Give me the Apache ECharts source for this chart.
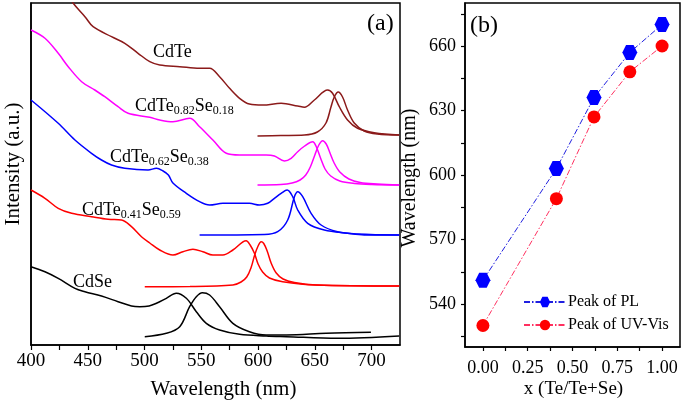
<!DOCTYPE html>
<html>
<head>
<meta charset="utf-8">
<script src="https://cdn.jsdelivr.net/npm/echarts@6/dist/echarts.min.js"></script>
<style>
html,body{margin:0;padding:0;background:#fff;}
#c{width:685px;height:404px;}
</style>
</head>
<body>
<div id="c"></div>
<script>
// ---------- Panel (a): spectra, [wavelength nm, intensity a.u. (offset-stacked)] ----------
const cdteAbs = [[432,352],[437.2,341.7],[447.5,328.3],[454.7,318.3],[470.9,308.3],[482.6,301.7],[494.3,291.7],[504.6,283.3],[513.4,280],[531,278.3],[548.5,276.7],[557.3,276.7],[566.1,268.3],[574.9,256.7],[583.7,246.7],[592.4,241],[604.1,240],[620.3,241.7],[634.9,239],[640.8,237.7],[649.6,245],[661.3,255],[665.6,251.7],[671.5,238.3],[678.8,225],[687.6,216.7],[702.3,212.3],[724.3,210]];
const cdtePl = [[599.5,209],[620,209.5],[640.8,210],[652.2,213],[659.8,222],[664.2,238],[667.1,248],[670.6,253],[674.4,248],[678.8,235],[684.7,222],[693.5,214],[704.9,211],[724.3,210]];

const te82Abs = [[400,315],[412.3,306.7],[424,291.7],[432.8,278.3],[444.6,263.3],[456.2,255],[465,248.3],[476.7,238.3],[485.5,231.7],[504.6,227.7],[513.4,225],[525,223.3],[539.7,226.7],[548.5,218.3],[560.2,205],[572,191.7],[583.7,190],[607.1,190],[614.4,189],[623.2,184],[629.1,186.7],[634.9,193.3],[641,199],[648.1,203.3],[651,199],[655,187],[659,176],[664,169],[672,164],[685,161.5],[700,160.5],[724.3,160]];
const te82Pl = [[599.5,160],[620,160.5],[630,162],[637,165],[642,170],[646,178],[650,190],[653.5,200],[656.9,204.3],[660,201],[663,193],[667,182],[672,173],[680,166],[690,162.5],[705,161],[724.3,160]];

const te62Abs = [[400,245],[424,221.7],[438.7,205],[453.3,191.7],[462.1,185],[470.9,180],[482.6,176.7],[503.1,175],[510.5,176.7],[516.3,174],[521,170],[525,162],[536.8,151.7],[548.5,143.3],[557.3,140],[569,141.7],[583.7,141.7],[592.4,141.7],[601.2,140],[608.5,141.7],[614.4,146.7],[620.3,151.7],[625.6,155],[630.5,148.3],[634.9,135],[643.7,121.7],[658.3,115],[678.8,111.7],[693.5,110],[724.3,110]];
const te62Pl = [[548.5,110],[605.6,110.5],[617.3,113.3],[626.1,125],[632,148.3],[634.9,153.3],[639.3,148.3],[646.7,131.7],[655.5,120],[670,113.3],[687.6,111],[724.3,110]];

const te41Abs = [[400,155],[412.3,146.7],[424,136.7],[435.8,131.7],[453.3,128.3],[467.9,125.7],[479.7,125],[488.5,118.3],[497.3,108.3],[504.6,102],[513.4,95],[525,90],[533.8,93.3],[542.6,95.7],[551.4,93.3],[560.2,90],[569,90],[577.8,95],[589.5,104.3],[593,100],[596.8,91.7],[600,81],[604,73],[610,67],[621.7,63.3],[651,60],[724.3,59]];
const te41Pl = [[500.2,58.3],[540,58.5],[577.8,60],[585,63],[590,68],[594,78],[597,90],[600,99],[602.7,103.3],[605,101.5],[608,94],[611.5,82],[616,72],[622,66],[632,62.5],[651,60],[724.3,59]];

const cdseAbs = [[400,78.3],[412.3,73.3],[424,66.7],[438.7,56.7],[447.5,53.3],[462.1,49],[476.7,43.3],[488.5,39],[495.8,38.3],[504,39],[510.5,41.7],[519.2,46.7],[528,51.7],[536.8,46.7],[545.6,33.3],[554.4,21.7],[566.1,15],[583.7,10.7],[607.1,9],[625,8.3],[670,6.7],[724.3,9]];
const cdsePl = [[500.2,8.3],[519.2,11.7],[531,18.3],[539.7,38.3],[545.6,48.3],[550.9,52.3],[557.3,50],[566.1,38.3],[577.8,21.7],[592.4,13.3],[607.1,10],[625,10],[660,11.7],[699.4,12.7]];

const xTicksA = [400,425,450,475,500,525,550,575,600,625,650,675,700];
const xLabelsA = [400,450,500,550,600,650,700];

// ---------- Panel (b): peak positions ----------
const xFrac = [0, 0.41, 0.62, 0.82, 1.0];
const plPeak = [551, 603, 636, 657, 670];
const uvPeak = [530, 589, 627, 648, 660];
const xTicksB = [0,0.125,0.25,0.375,0.5,0.625,0.75,0.875,1];
const xLabelsB = [0,0.25,0.5,0.75,1];
const yTicksB = [525,540,555,570,585,600,615,630,645,660,675];
const yLabelsB = [540,570,600,630,660];

const FONT = 'Liberation Serif';
const hexPath = 'path://M-1,0 L-0.5,-0.866 L0.5,-0.866 L1,0 L0.5,0.866 L-0.5,0.866 Z';

function spec(data, color) {
  return {type:'line', xAxisIndex:0, yAxisIndex:0, data:data, showSymbol:false, smooth:0.35,
    lineStyle:{color:color, width:1.5}, itemStyle:{color:color}, clip:true, silent:true};
}
const brown = '#8B1A1A';

const chart = echarts.init(document.getElementById('c'), null, {renderer:'canvas'});
const axisTxt = {color:'#000', fontFamily:FONT};
const option = {
  animation:false,
  backgroundColor:'#fff',
  textStyle:{fontFamily:FONT},
  grid:[
    {left:31, top:3, width:369, height:342, show:true, borderColor:'#000', borderWidth:1.5, backgroundColor:'transparent'},
    {left:465, top:3, width:215, height:344, show:true, borderColor:'#000', borderWidth:1.5, backgroundColor:'transparent'}
  ],
  xAxis:[
    {type:'value', gridIndex:0, min:400, max:725, interval:50,
      axisLine:{show:true, onZero:false, lineStyle:{color:'#000', width:1.5}},
      axisTick:{show:true, inside:false, length:5, customValues:xTicksA, lineStyle:{color:'#000', width:1.2}},
      axisLabel:Object.assign({fontSize:19, margin:7, customValues:xLabelsA}, axisTxt),
      splitLine:{show:false}},
    {type:'value', gridIndex:1, min:-0.1, max:1.1, interval:0.25,
      axisLine:{show:true, onZero:false, lineStyle:{color:'#000', width:1.5}},
      axisTick:{show:true, inside:false, length:4, customValues:xTicksB, lineStyle:{color:'#000', width:1.2}},
      axisLabel:Object.assign({fontSize:18, margin:12, customValues:xLabelsB, formatter:(v)=>Number(v).toFixed(2)}, axisTxt),
      splitLine:{show:false}}
  ],
  yAxis:[
    {type:'value', gridIndex:0, min:0, max:342,
      axisLine:{show:true, onZero:false, lineStyle:{color:'#000', width:1.5}},
      axisTick:{show:false}, axisLabel:{show:false}, splitLine:{show:false}},
    {type:'value', gridIndex:1, min:520, max:680, interval:40,
      axisLine:{show:true, onZero:false, lineStyle:{color:'#000', width:1.5}},
      axisTick:{show:true, inside:false, length:4, customValues:yTicksB, lineStyle:{color:'#000', width:1.2}},
      axisLabel:Object.assign({fontSize:18, margin:9, customValues:yLabelsB}, axisTxt),
      splitLine:{show:false}}
  ],
  legend:{
    orient:'vertical', left:518, top:289, itemWidth:42, itemHeight:13, itemGap:7,
    textStyle:{fontFamily:FONT, fontSize:16, color:'#000', padding:[0,0,0,-3]},
    data:['Peak of PL','Peak of UV-Vis']
  },
  series:[
    spec(cdseAbs,'#000'), spec(cdsePl,'#000'),
    spec(te41Abs,'#FF0000'), spec(te41Pl,'#FF0000'),
    spec(te62Abs,'#0000FF'), spec(te62Pl,'#0000FF'),
    spec(te82Abs,'#FF00FF'), spec(te82Pl,'#FF00FF'),
    spec(cdteAbs,brown), spec(cdtePl,brown),
    {type:'line', name:'Peak of PL', xAxisIndex:1, yAxisIndex:1,
      data:xFrac.map((x,i)=>[x,plPeak[i]]), symbol:hexPath, symbolSize:15,
      lineStyle:{color:'#2020E0', width:1, type:[6,2,1.5,2]}, itemStyle:{color:'#0000FF'}},
    {type:'line', name:'Peak of UV-Vis', xAxisIndex:1, yAxisIndex:1,
      data:xFrac.map((x,i)=>[x,uvPeak[i]]), symbol:'circle', symbolSize:13,
      lineStyle:{color:'#FF3060', width:1, type:[6,2,1.5,2]}, itemStyle:{color:'#FF0000'}}
  ],
  graphic:[
    {type:'text', left:367, top:12, style:{text:'(a)', font:'24px "Liberation Serif"', fill:'#000'}},
    {type:'text', left:470, top:14, style:{text:'(b)', font:'24px "Liberation Serif"', fill:'#000'}},
    {type:'text', x:223.5, y:389, style:{text:'Wavelength (nm)', font:'21px "Liberation Serif"', fill:'#000', align:'center', verticalAlign:'middle'}},
    {type:'text', x:573.5, y:389, style:{text:'x (Te/Te+Se)', font:'19px "Liberation Serif"', fill:'#000', align:'center', verticalAlign:'middle'}},
    {type:'text', x:13, y:164, rotation:Math.PI/2, style:{text:'Intensity (a.u.)', font:'21px "Liberation Serif"', fill:'#000', align:'center', verticalAlign:'middle'}},
    {type:'text', x:410, y:178, rotation:Math.PI/2, style:{text:'Wavelength (nm)', font:'20px "Liberation Serif"', fill:'#000', align:'center', verticalAlign:'middle'}},
    {type:'text', x:153, y:43, style:{text:'CdTe', font:'18px "Liberation Serif"', fill:'#000'}},
    {type:'text', x:135, y:97, style:{text:'{m|CdTe}{s|0.82}{m|Se}{s|0.18}', fill:'#000',
      rich:{m:{fontFamily:FONT, fontSize:18, lineHeight:20, verticalAlign:'top'}, s:{fontFamily:FONT, fontSize:12, lineHeight:20, verticalAlign:'top', padding:[8,0,0,0]}}}},
    {type:'text', x:110, y:148, style:{text:'{m|CdTe}{s|0.62}{m|Se}{s|0.38}', fill:'#000',
      rich:{m:{fontFamily:FONT, fontSize:18, lineHeight:20, verticalAlign:'top'}, s:{fontFamily:FONT, fontSize:12, lineHeight:20, verticalAlign:'top', padding:[8,0,0,0]}}}},
    {type:'text', x:82, y:201, style:{text:'{m|CdTe}{s|0.41}{m|Se}{s|0.59}', fill:'#000',
      rich:{m:{fontFamily:FONT, fontSize:18, lineHeight:20, verticalAlign:'top'}, s:{fontFamily:FONT, fontSize:12, lineHeight:20, verticalAlign:'top', padding:[8,0,0,0]}}}},
    {type:'text', x:73, y:273, style:{text:'CdSe', font:'18px "Liberation Serif"', fill:'#000'}}
  ]
};
chart.setOption(option);
</script>
</body>
</html>
